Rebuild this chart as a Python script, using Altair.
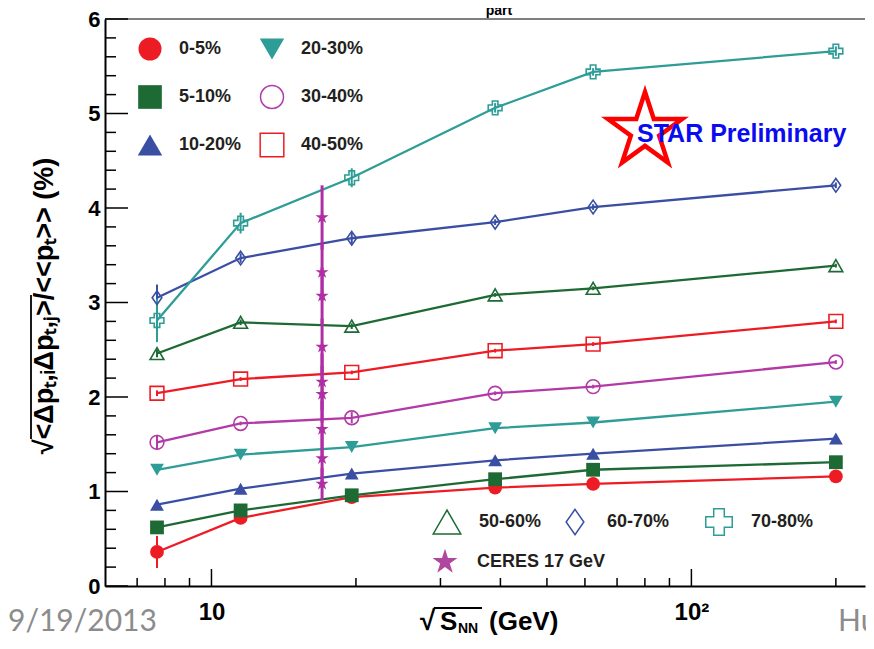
import altair as alt
import pandas as pd

# ---------------- data ----------------
energies = [7.7, 11.5, 19.6, 39.0, 62.4, 200.0]
centralities = ["0-5%", "5-10%", "10-20%", "20-30%", "30-40%",
                "40-50%", "50-60%", "60-70%", "70-80%"]
v_0_5 = [0.36, 0.72, 0.94, 1.04, 1.08, 1.16]
v_5_10 = [0.62, 0.80, 0.96, 1.13, 1.23, 1.31]
v_10_20 = [0.86, 1.03, 1.19, 1.33, 1.40, 1.56]
v_20_30 = [1.23, 1.39, 1.47, 1.67, 1.73, 1.95]
v_30_40 = [1.52, 1.72, 1.78, 2.04, 2.11, 2.37]
v_40_50 = [2.04, 2.19, 2.26, 2.49, 2.56, 2.80]
v_50_60 = [2.46, 2.79, 2.75, 3.08, 3.15, 3.39]
v_60_70 = [3.05, 3.47, 3.68, 3.85, 4.01, 4.24]
v_70_80 = [2.81, 3.84, 4.32, 5.06, 5.44, 5.66]

e_0_5 = [0.17, 0.03, 0.02, 0.01, 0.01, 0.01]
e_5_10 = [0.06, 0.02, 0.02, 0.01, 0.01, 0.01]
e_10_20 = [0.03, 0.02, 0.02, 0.01, 0.01, 0.01]
e_20_30 = [0.03, 0.02, 0.02, 0.01, 0.01, 0.01]
e_30_40 = [0.08, 0.02, 0.06, 0.02, 0.02, 0.02]
e_40_50 = [0.03, 0.02, 0.02, 0.02, 0.02, 0.02]
e_50_60 = [0.04, 0.03, 0.03, 0.02, 0.02, 0.02]
e_60_70 = [0.14, 0.05, 0.06, 0.03, 0.03, 0.03]
e_70_80 = [0.23, 0.11, 0.10, 0.05, 0.04, 0.05]

ceres_energy = [17.0] * 9
ceres_values = [3.90, 3.32, 3.07, 2.53, 2.16, 2.03, 1.66, 1.35, 1.08]
ceres_errors = [0.34, 0.30, 0.30, 0.30, 0.30, 0.30, 0.30, 0.30, 0.17]

y_major = [0, 1, 2, 3, 4, 5, 6]
x_major = [10, 100]
x_minor = [7, 8, 9, 20, 30, 40, 50, 60, 70, 80, 90, 200]

# ---------------- styles ----------------
RED, GREEN, BLUE, TEAL, MAG = "#ed1c24", "#1d6a35", "#3a4fa3", "#2e9d97", "#b33aa6"
colors = [RED, GREEN, BLUE, TEAL, MAG, RED, GREEN, BLUE, TEAL]
DIAMOND = "M0,-1L0.7,0L0,1L-0.7,0Z"
STAR = ("M0,-1L0.225,-0.309L0.951,-0.309L0.363,0.118L0.588,0.809L0,0.382"
        "L-0.588,0.809L-0.363,0.118L-0.951,-0.309L-0.225,-0.309Z")
shapes = ["circle", "square", "triangle-up", "triangle-down", "circle",
          "square", "triangle-up", DIAMOND, "cross"]
filled_set = ["0-5%", "5-10%", "10-20%", "20-30%"]
open_set = ["30-40%", "40-50%", "50-60%", "60-70%", "70-80%"]
FONT = "Liberation Sans"
TXT = "#231f20"

values = [v_0_5, v_5_10, v_10_20, v_20_30, v_30_40, v_40_50, v_50_60, v_60_70, v_70_80]
errors = [e_0_5, e_5_10, e_10_20, e_20_30, e_30_40, e_40_50, e_50_60, e_60_70, e_70_80]
rows = []
for c, vs, es in zip(centralities, values, errors):
    for x, v, e in zip(energies, vs, es):
        rows.append({"energy": x, "value": v, "lo": v - e, "hi": v + e, "cent": c})
df = pd.DataFrame(rows)

ceres = pd.DataFrame({"energy": ceres_energy, "value": ceres_values})
ceres["lo"] = ceres["value"] - pd.Series(ceres_errors)
ceres["hi"] = ceres["value"] + pd.Series(ceres_errors)

W, H = 760, 567
xscale = alt.Scale(type="log", domain=[6, 230], nice=False)
yscale = alt.Scale(domain=[0, 6], nice=False, zero=False)
xaxis = alt.Axis(values=x_major, labelExpr="datum.value < 50 ? '10' : '10²'",
                 ticks=False, grid=False, domainColor="black", domainWidth=2,
                 labelFont=FONT, labelFontSize=24, labelFontWeight="bold",
                 labelColor="black", labelPadding=14, labelFlush=False, title=None)
yaxis = alt.Axis(values=y_major, format="d", ticks=False, grid=False,
                 domainColor="black", domainWidth=2, labelFont=FONT,
                 labelFontSize=22, labelFontWeight="bold", labelColor="black",
                 labelPadding=5, labelFlush=False, title=None)

X = alt.X("energy:Q", scale=xscale, axis=xaxis)
Y = alt.Y("value:Q", scale=yscale, axis=yaxis)
colorenc = alt.Color("cent:N", scale=alt.Scale(domain=centralities, range=colors), legend=None)
shapeenc = alt.Shape("cent:N", scale=alt.Scale(domain=centralities, range=shapes), legend=None)

base = alt.Chart(df)
lines = base.mark_line(strokeWidth=2.3).encode(x=X, y=Y, color=colorenc, detail="cent:N")
ebars = base.mark_rule(strokeWidth=2).encode(x=X, y="lo:Q", y2="hi:Q", color=colorenc)
pts_filled = base.transform_filter(
    alt.FieldOneOfPredicate(field="cent", oneOf=filled_set)
).mark_point(filled=True, size=190, opacity=1).encode(x=X, y=Y, color=colorenc, shape=shapeenc)
pts_open = base.transform_filter(
    alt.FieldOneOfPredicate(field="cent", oneOf=open_set)
).mark_point(filled=False, size=190, opacity=1, strokeWidth=1.6).encode(
    x=X, y=Y, color=colorenc, shape=shapeenc)

cbase = alt.Chart(ceres)
c_rule = cbase.mark_rule(color="#b02ea5", strokeWidth=3).encode(x=X, y="lo:Q", y2="hi:Q")
c_pts = cbase.mark_point(shape=STAR, filled=True, size=190, color="#b02ea5", opacity=1).encode(x=X, y=Y)

# inward ticks
ymaj = alt.Chart(pd.DataFrame({"v": y_major})).mark_rule(color="black", strokeWidth=1.5).encode(
    y=alt.Y("v:Q", scale=yscale), x=alt.value(0), x2=alt.value(23))
ymin = alt.Chart(pd.DataFrame({"v": [i / 5 for i in range(31) if i % 5]})).mark_rule(
    color="black", strokeWidth=1.5).encode(y=alt.Y("v:Q", scale=yscale), x=alt.value(0), x2=alt.value(11))
xmaj = alt.Chart(pd.DataFrame({"v": x_major})).mark_rule(color="black", strokeWidth=1.5).encode(
    x=alt.X("v:Q", scale=xscale), y=alt.value(H), y2=alt.value(H - 17))
xmin = alt.Chart(pd.DataFrame({"v": x_minor})).mark_rule(color="black", strokeWidth=1.5).encode(
    x=alt.X("v:Q", scale=xscale), y=alt.value(H), y2=alt.value(H - 8))
topline = alt.Chart(pd.DataFrame({"a": [0]})).mark_rule(color="#555555", strokeWidth=1.5).encode(
    x=alt.value(0), x2=alt.value(W), y=alt.value(0))

one = pd.DataFrame({"a": [0]})


def marker(px, py, shape, size, color, filled, sw=1.5):
    return alt.Chart(one).mark_point(shape=shape, size=size, color=color, filled=filled,
                                     opacity=1, strokeWidth=sw).encode(
        x=alt.value(px), y=alt.value(py))


def label(px, py, text, size=18, color=TXT, weight="bold", font=FONT, align="left",
          baseline="middle", angle=0):
    kw = dict(align=align, baseline=baseline, fontSize=size, fontWeight=weight,
              font=font, color=color)
    if angle:
        kw["angle"] = angle
    return alt.Chart(pd.DataFrame({"t": [text]})).mark_text(**kw).encode(
        x=alt.value(px), y=alt.value(py), text="t:N")


def hline(x1, x2, y, color="black", sw=1.5):
    return alt.Chart(one).mark_rule(color=color, strokeWidth=sw).encode(
        x=alt.value(x1), x2=alt.value(x2), y=alt.value(y))


def vline(x, y1, y2, color="black", sw=1.5):
    return alt.Chart(one).mark_rule(color=color, strokeWidth=sw).encode(
        x=alt.value(x), y=alt.value(y1), y2=alt.value(y2))


legend_layers = []
# upper legend (two columns, three rows)
up_items = [(45, 30, "circle", 529, RED, True, "0-5%"),
            (45, 78, "square", 560, GREEN, True, "5-10%"),
            (45, 126, "triangle-up", 600, BLUE, True, "10-20%"),
            (167, 30, "triangle-down", 600, TEAL, True, "20-30%"),
            (167, 78, "circle", 529, MAG, False, "30-40%"),
            (167, 126, "square", 560, RED, False, "40-50%")]
for px, py, shp, sz, col, fl, txt in up_items:
    legend_layers.append(marker(px, py, shp, sz, col, fl))
    legend_layers.append(label(px + 29, py, txt))
# lower legend
lo_items = [(342, 503, "triangle-up", 760, GREEN, False, "50-60%"),
            (470, 503, DIAMOND, 640, BLUE, False, "60-70%"),
            (614, 503, "cross", 700, TEAL, False, "70-80%"),
            (340, 543, STAR, 690, "#b0479f", True, "CERES 17 GeV")]
for px, py, shp, sz, col, fl, txt in lo_items:
    legend_layers.append(marker(px, py, shp, sz, col, fl))
    legend_layers.append(label(px + 32, py, txt))

# STAR preliminary logo
logo = alt.Chart(one).mark_point(shape=STAR, size=6084, fill="white", stroke="#ff0000",
                                 strokeWidth=4.5, filled=True, opacity=1).encode(
    x=alt.value(540), y=alt.value(112))
logo_txt = label(532, 123, "STAR Preliminary", size=25, color="#0b0bf0", baseline="alphabetic")

# titles and page texts
ytitle = label(-60, 287, "√<Δpₜ,ᵢΔpₜ,ⱼ>/<<pₜ>> (%)", size=27, color="black",
               align="center", angle=270)
ybar = vline(-74, 276, 420, sw=1.8)
xt1 = label(315, 611, "√", size=28, color="black", baseline="alphabetic")
xt2 = label(335, 611, "S", size=26, color="black", baseline="alphabetic")
xt3 = label(353, 614, "NN", size=14, color="black", baseline="alphabetic")
xt4 = label(384, 611, "(GeV)", size=26, color="black", baseline="alphabetic")
xbar = hline(329, 377, 589, sw=1.8)
part = label(394, -4, "part", size=14, color="black", align="center", baseline="alphabetic")
foot1 = label(-97, 612, "9/19/2013", size=30, color="#8c8c8c", weight="normal", font="Lato",
              baseline="alphabetic")
foot2 = label(733, 612, "Hu", size=30, color="#8c8c8c", weight="normal", font="Lato",
              baseline="alphabetic")

chart = alt.layer(
    topline, ymaj, ymin, xmaj, xmin,
    lines, ebars, c_rule, c_pts, pts_filled, pts_open,
    *legend_layers, logo, logo_txt,
    ytitle, ybar, xt1, xt2, xt3, xt4, xbar, part, foot1, foot2,
).properties(
    width=W, height=H,
    autosize=alt.AutoSizeParams(type="none"),
    padding={"left": 97, "top": 11, "right": 1, "bottom": 50},
    background="white",
).configure_view(stroke=None)

chart.save("out.html", embed_options={"renderer": "svg", "actions": False})
